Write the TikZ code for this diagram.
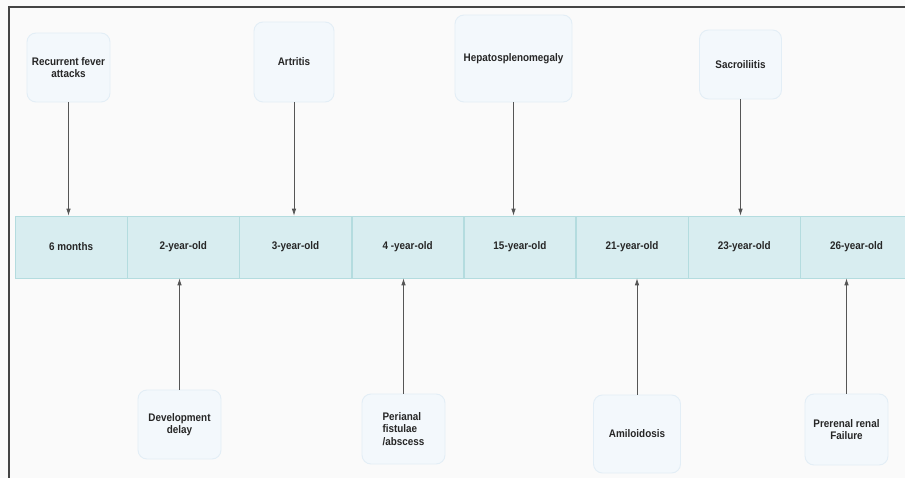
\documentclass[tikz,border=0pt]{standalone}
\usepackage{fontspec}
\setmainfont{Liberation Sans}[FakeStretch=0.9]
\usetikzlibrary{arrows.meta}
\definecolor{bg}{HTML}{FAFAFA}
\definecolor{frame}{HTML}{444444}
\definecolor{barfill}{HTML}{D8EDF0}
\definecolor{barline}{HTML}{B4DCDF}
\definecolor{boxfill}{HTML}{F3F8FC}
\definecolor{boxline}{HTML}{E3EEF6}
\definecolor{txt}{HTML}{262626}
\definecolor{arr}{HTML}{555555}
\tikzset{
  cell/.style={draw=barline, line width=0.6pt, fill=barfill, minimum width=111.6pt, minimum height=62pt, inner sep=0pt, anchor=west, font=\bfseries\fontsize{11}{13}\selectfont, text=txt},
  evbox/.style={draw=boxline, line width=0.9pt, fill=boxfill, rounded corners=9pt, inner sep=0pt, align=center, font=\bfseries\fontsize{11}{12.5}\selectfont, text=txt},
  conn/.style={draw=arr, line width=0.8pt, -{Latex[length=7pt,width=4.5pt]}}
}
\begin{document}
\begin{tikzpicture}[x=1pt,y=-1pt]
\useasboundingbox (0,0) rectangle (905,478);
\fill[bg] (0,0) rectangle (905,478);
\draw[frame, line width=1.3pt] (905,7) -- (9,7) -- (9,478);
% timeline cells
\node[cell] (c1) at (15,247) {6 months};
\node[cell] (c2) at (c1.east) {2-year-old};
\node[cell] (c3) at (c2.east) {3-year-old};
\node[cell] (c4) at (c3.east) {4 -year-old};
\node[cell] (c5) at (c4.east) {15-year-old};
\node[cell] (c6) at (c5.east) {21-year-old};
\node[cell] (c7) at (c6.east) {23-year-old};
\node[cell] (c8) at (c7.east) {26-year-old};
% top events
\node[evbox, minimum width=83pt, minimum height=69pt] (fever) at (68.5,67.5) {Recurrent fever\\attacks};
\node[evbox, minimum width=80pt, minimum height=80pt] (artr) at (294,62) {Artritis};
\node[evbox, minimum width=117pt, minimum height=87pt] (hepa) at (513.5,58.5) {Hepatosplenomegaly};
\node[evbox, minimum width=82pt, minimum height=69pt] (sacr) at (740.5,64.5) {Sacroiliitis};
% bottom events
\node[evbox, minimum width=83pt, minimum height=69pt] (dev) at (179.5,424.5) {Development\\delay};
\node[evbox, minimum width=83pt, minimum height=70pt, align=left] (peri) at (403.5,429) {Perianal\\fistulae\\/abscess};
\node[evbox, minimum width=87pt, minimum height=78pt] (amil) at (637,434) {Amiloidosis};
\node[evbox, minimum width=83pt, minimum height=71pt] (prer) at (846.5,429.5) {Prerenal renal\\Failure};
% connectors
\draw[conn] (fever.south) -- (fever.south |- c1.north);
\draw[conn] (artr.south) -- (artr.south |- c3.north);
\draw[conn] (hepa.south) -- (hepa.south |- c5.north);
\draw[conn] (sacr.south) -- (sacr.south |- c7.north);
\draw[conn] (dev.north) -- (dev.north |- c2.south);
\draw[conn] (peri.north) -- (peri.north |- c4.south);
\draw[conn] (amil.north) -- (amil.north |- c6.south);
\draw[conn] (prer.north) -- (prer.north |- c8.south);
\end{tikzpicture}
\end{document}
